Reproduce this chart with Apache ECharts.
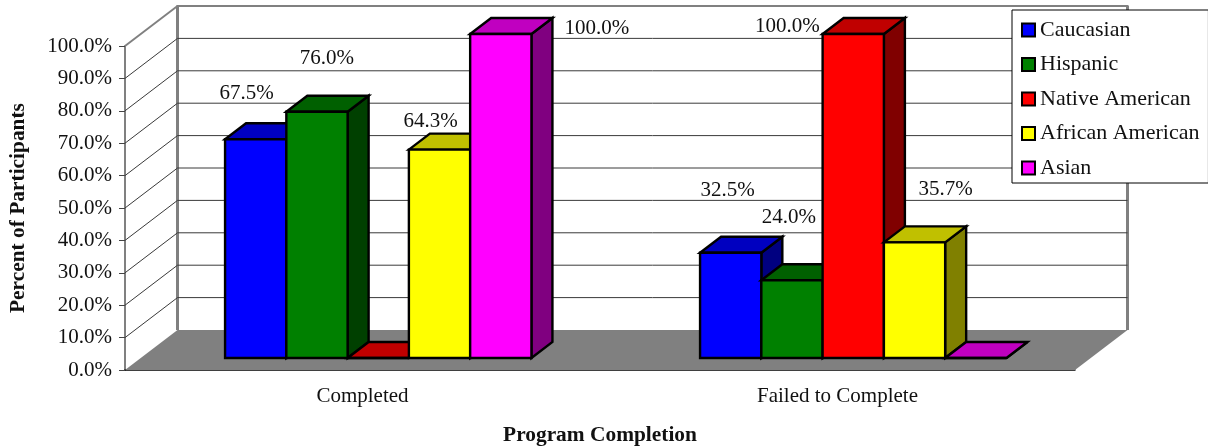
<!DOCTYPE html>
<html>
<head>
<meta charset="utf-8">
<style>html,body{margin:0;padding:0;background:#fff}#chart{width:1208px;height:448px}</style>
<script src="https://cdn.jsdelivr.net/npm/echarts@6/dist/echarts.min.js"></script>
</head>
<body>
<div id="chart"></div>
<script>
// Program completion by participant group
const categories = ['Completed', 'Failed to Complete'];
const groups = ['Caucasian', 'Hispanic', 'Native American', 'African American', 'Asian'];
const caucasian = [67.5, 32.5];
const hispanic = [76.0, 24.0];
const nativeAmerican = [0, 100.0];
const africanAmerican = [64.3, 35.7];
const asian = [100.0, 0];
const gridValues = [10, 20, 30, 40, 50, 60, 70, 80, 90];

// Face colours per group: front, top, side
const faces = [
  ['#0000ff', '#0000c0', '#000080'],
  ['#008000', '#006000', '#004000'],
  ['#ff0000', '#c00000', '#800000'],
  ['#ffff00', '#c0c000', '#808000'],
  ['#ff00ff', '#c000c0', '#800080']
];
// Label placement relative to the top centre of each bar's front face
const labelNudges = [
  [[-9, -46], [-3, -62]],
  [[10, -53], [-3, -63]],
  [[0, 0], [-66, -8]],
  [[-9, -28], [31, -53]],
  [[96, -6], [0, 0]]
];

const FONT = '"Liberation Serif","Times New Roman",serif';
const TEXT = '#111';
const WALL_DX = 52.5, WALL_DY = 40;   // projected depth of the plot box
const NEAR = 0.3, BAR_DEPTH = 0.4;    // where bars sit within that depth
const BAR_SHARE = 0.129;              // bar width as a share of a category band

function pts(list) { return { points: list }; }

function renderWalls(params, api) {
  const band = api.size([1, 0])[0];
  const o = api.coord([0, 0]), t = api.coord([0, 100]);
  const l = o[0] - band / 2, r = l + 2 * band, y0 = o[1], y1 = t[1];
  const gray = '#808080';
  const edge = (a, b, w) => ({
    type: 'line', silent: true,
    shape: { x1: a[0], y1: a[1], x2: b[0], y2: b[1] },
    style: { stroke: gray, lineWidth: w }
  });
  return {
    type: 'group',
    children: [
      { type: 'polygon', silent: true,
        shape: pts([[l, y0], [l + WALL_DX, y0 - WALL_DY], [r + WALL_DX, y0 - WALL_DY], [r, y0]]),
        style: { fill: gray } },
      edge([l + WALL_DX, y0 - WALL_DY], [l + WALL_DX, y1 - WALL_DY], 3),
      edge([r + WALL_DX, y0 - WALL_DY], [r + WALL_DX, y1 - WALL_DY], 3),
      edge([l + WALL_DX - 1, y1 - WALL_DY], [r + WALL_DX + 1, y1 - WALL_DY], 2),
      edge([l, y1], [l + WALL_DX, y1 - WALL_DY], 2)
    ]
  };
}

function renderGridLine(params, api) {
  const band = api.size([1, 0])[0];
  const p = api.coord([0, api.value(1)]);
  const l = p[0] - band / 2, r = l + 2 * band, y = p[1];
  return {
    type: 'polyline', silent: true,
    shape: pts([[l, y], [l + WALL_DX, y - WALL_DY], [r + WALL_DX, y - WALL_DY]]),
    style: { stroke: '#3a3a3a', lineWidth: 1, fill: null }
  };
}

function barRenderer(groupIndex) {
  return function (params, api) {
    const band = api.size([1, 0])[0];
    const cat = api.value(0), val = api.value(1);
    const base = api.coord([cat, 0]), top = api.coord([cat, val]);
    const w = band * BAR_SHARE;
    const dx = WALL_DX * BAR_DEPTH, dy = WALL_DY * BAR_DEPTH;
    const x0 = base[0] + WALL_DX * NEAR + (groupIndex - 2.5) * w, x1 = x0 + w;
    const yB = base[1] - WALL_DY * NEAR, yT = top[1] - WALL_DY * NEAR;
    const [front, upper, side] = faces[groupIndex];
    const outline = { stroke: '#000', lineWidth: 2.4, lineJoin: 'miter' };
    const children = [
      { type: 'polygon', shape: pts([[x1, yB], [x1 + dx, yB - dy], [x1 + dx, yT - dy], [x1, yT]]),
        style: Object.assign({ fill: side }, outline) },
      { type: 'polygon', shape: pts([[x0, yT], [x0 + dx, yT - dy], [x1 + dx, yT - dy], [x1, yT]]),
        style: Object.assign({ fill: upper }, outline) },
      { type: 'polygon', shape: pts([[x0, yB], [x0, yT], [x1, yT], [x1, yB]]),
        style: Object.assign({ fill: front }, outline) }
    ];
    if (val > 0) {
      const nudge = labelNudges[groupIndex][cat];
      children.push({
        type: 'text', z2: 100, silent: true,
        style: {
          x: (x0 + x1) / 2 + nudge[0], y: yT + nudge[1],
          text: val.toFixed(1) + '%', fill: TEXT,
          font: '21px ' + FONT, align: 'center', verticalAlign: 'middle'
        }
      });
    }
    return { type: 'group', children };
  };
}

const groupValues = [caucasian, hispanic, nativeAmerican, africanAmerican, asian];
const barSeries = groups.map((name, i) => ({
  type: 'custom',
  name,
  coordinateSystem: 'cartesian2d',
  itemStyle: { color: faces[i][0] },
  data: categories.map((c, k) => [k, groupValues[i][k]]),
  encode: { x: 0, y: 1 },
  renderItem: barRenderer(i),
  silent: true,
  animation: false
}));

const chart = echarts.init(document.getElementById('chart'), null, { renderer: 'canvas' });
chart.setOption({
  animation: false,
  backgroundColor: '#fff',
  textStyle: { fontFamily: FONT },
  grid: { left: 125, top: 46, width: 950, height: 324, containLabel: false, outerBoundsMode: 'none' },
  legend: {
    data: groups,
    orient: 'vertical',
    left: 1012, top: 10,
    padding: [9, 9, 4, 9],
    itemWidth: 13, itemHeight: 13, itemGap: 12.5,
    icon: 'rect',
    backgroundColor: '#fff',
    borderColor: '#000', borderWidth: 1, borderRadius: 0,
    itemStyle: { borderColor: '#000', borderWidth: 2 },
    textStyle: { fontFamily: FONT, fontSize: 22, lineHeight: 22, color: TEXT },
    selectedMode: false
  },
  xAxis: {
    type: 'category',
    data: categories,
    name: 'Program Completion',
    nameLocation: 'middle',
    nameGap: 55,
    nameTextStyle: { fontFamily: FONT, fontSize: 21.4, fontWeight: 'bold', color: TEXT },
    axisLine: { lineStyle: { color: '#000', width: 1.5 } },
    axisTick: { length: 6, lineStyle: { color: '#666', width: 1 } },
    axisLabel: { fontFamily: FONT, fontSize: 21, color: TEXT, margin: 16 },
    splitLine: { show: false }
  },
  yAxis: {
    type: 'value',
    min: 0, max: 100, interval: 10,
    name: 'Percent of Participants',
    nameLocation: 'middle',
    nameGap: 96,
    nameTextStyle: { fontFamily: FONT, fontSize: 21.4, fontWeight: 'bold', color: TEXT },
    axisLine: { show: true, lineStyle: { color: '#808080', width: 2 } },
    axisTick: { show: true, length: 6, lineStyle: { color: '#444', width: 1 } },
    axisLabel: { fontFamily: FONT, fontSize: 21, color: TEXT, margin: 13, padding: [5, 0, 0, 0],
      formatter: v => v.toFixed(1) + '%' },
    splitLine: { show: false }
  },
  series: [
    { type: 'custom', name: 'walls', coordinateSystem: 'cartesian2d', silent: true,
      data: [[0, 0]], renderItem: renderWalls, z: 1, animation: false },
    { type: 'custom', name: 'gridlines', coordinateSystem: 'cartesian2d', silent: true,
      data: gridValues.map(v => [0, v]), encode: { x: 0, y: 1 }, renderItem: renderGridLine, z: 1, animation: false }
  ].concat(barSeries)
});
</script>
</body>
</html>
